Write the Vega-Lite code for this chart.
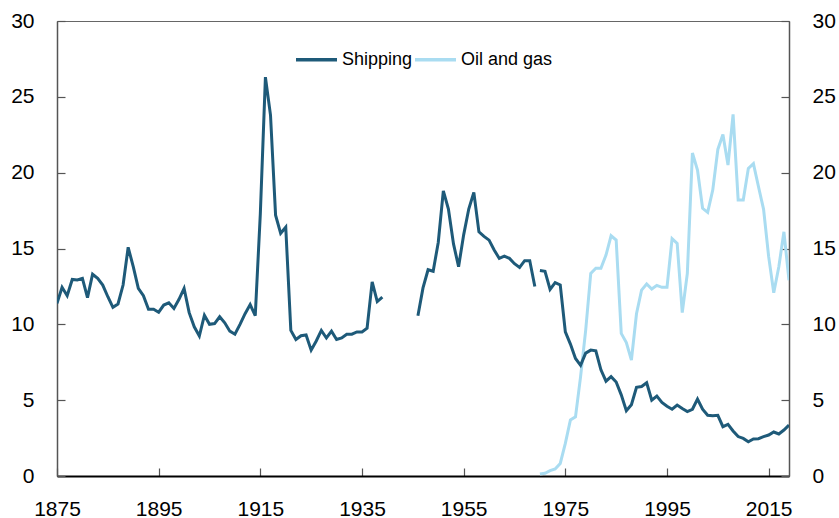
{
  "$schema": "https://vega.github.io/schema/vega-lite/v6.json",
  "width": 732,
  "height": 455,
  "autosize": "none",
  "padding": {"left": 57, "top": 21, "right": 50, "bottom": 42},
  "background": "white",
  "config": {
    "font": "Liberation Sans",
    "view": {"stroke": "#666", "strokeWidth": 1},
    "axis": {
      "grid": false,
      "labelFont": "Liberation Sans",
      "labelFontSize": 21,
      "labelColor": "#000",
      "domainColor": "#555",
      "domainWidth": 1.5,
      "tickColor": "#555",
      "tickWidth": 1.2,
      "title": null
    }
  },
  "data": {"values": [
      {"year":1970,"value":0.13,"series":"Oil and gas","seg":"D"},{"year":1971,"value":0.18,"series":"Oil and gas","seg":"D"},{"year":1972,"value":0.35,"series":"Oil and gas","seg":"D"},{"year":1973,"value":0.46,"series":"Oil and gas","seg":"D"},{"year":1974,"value":0.83,"series":"Oil and gas","seg":"D"},{"year":1975,"value":2.15,"series":"Oil and gas","seg":"D"},{"year":1976,"value":3.7,"series":"Oil and gas","seg":"D"},{"year":1977,"value":3.9,"series":"Oil and gas","seg":"D"},{"year":1978,"value":6.55,"series":"Oil and gas","seg":"D"},{"year":1979,"value":9.6,"series":"Oil and gas","seg":"D"},{"year":1980,"value":13.36,"series":"Oil and gas","seg":"D"},{"year":1981,"value":13.7,"series":"Oil and gas","seg":"D"},{"year":1982,"value":13.7,"series":"Oil and gas","seg":"D"},{"year":1983,"value":14.57,"series":"Oil and gas","seg":"D"},{"year":1984,"value":15.84,"series":"Oil and gas","seg":"D"},{"year":1985,"value":15.56,"series":"Oil and gas","seg":"D"},{"year":1986,"value":9.4,"series":"Oil and gas","seg":"D"},{"year":1987,"value":8.8,"series":"Oil and gas","seg":"D"},{"year":1988,"value":7.65,"series":"Oil and gas","seg":"D"},{"year":1989,"value":10.7,"series":"Oil and gas","seg":"D"},{"year":1990,"value":12.26,"series":"Oil and gas","seg":"D"},{"year":1991,"value":12.66,"series":"Oil and gas","seg":"D"},{"year":1992,"value":12.33,"series":"Oil and gas","seg":"D"},{"year":1993,"value":12.57,"series":"Oil and gas","seg":"D"},{"year":1994,"value":12.44,"series":"Oil and gas","seg":"D"},{"year":1995,"value":12.44,"series":"Oil and gas","seg":"D"},{"year":1996,"value":15.65,"series":"Oil and gas","seg":"D"},{"year":1997,"value":15.34,"series":"Oil and gas","seg":"D"},{"year":1998,"value":10.77,"series":"Oil and gas","seg":"D"},{"year":1999,"value":13.36,"series":"Oil and gas","seg":"D"},{"year":2000,"value":21.3,"series":"Oil and gas","seg":"D"},{"year":2001,"value":20.17,"series":"Oil and gas","seg":"D"},{"year":2002,"value":17.65,"series":"Oil and gas","seg":"D"},{"year":2003,"value":17.38,"series":"Oil and gas","seg":"D"},{"year":2004,"value":18.85,"series":"Oil and gas","seg":"D"},{"year":2005,"value":21.53,"series":"Oil and gas","seg":"D"},{"year":2006,"value":22.52,"series":"Oil and gas","seg":"D"},{"year":2007,"value":20.5,"series":"Oil and gas","seg":"D"},{"year":2008,"value":23.84,"series":"Oil and gas","seg":"D"},{"year":2009,"value":18.2,"series":"Oil and gas","seg":"D"},{"year":2010,"value":18.2,"series":"Oil and gas","seg":"D"},{"year":2011,"value":20.28,"series":"Oil and gas","seg":"D"},{"year":2012,"value":20.6,"series":"Oil and gas","seg":"D"},{"year":2013,"value":19.07,"series":"Oil and gas","seg":"D"},{"year":2014,"value":17.58,"series":"Oil and gas","seg":"D"},{"year":2015,"value":14.46,"series":"Oil and gas","seg":"D"},{"year":2016,"value":12.08,"series":"Oil and gas","seg":"D"},{"year":2017,"value":13.8,"series":"Oil and gas","seg":"D"},{"year":2018,"value":16.1,"series":"Oil and gas","seg":"D"},{"year":2019,"value":12.9,"series":"Oil and gas","seg":"D"},
      {"year":1875,"value":11.38,"series":"Shipping","seg":"A"},{"year":1876,"value":12.44,"series":"Shipping","seg":"A"},{"year":1877,"value":11.89,"series":"Shipping","seg":"A"},{"year":1878,"value":12.96,"series":"Shipping","seg":"A"},{"year":1879,"value":12.92,"series":"Shipping","seg":"A"},{"year":1880,"value":13.03,"series":"Shipping","seg":"A"},{"year":1881,"value":11.76,"series":"Shipping","seg":"A"},{"year":1882,"value":13.3,"series":"Shipping","seg":"A"},{"year":1883,"value":13.03,"series":"Shipping","seg":"A"},{"year":1884,"value":12.59,"series":"Shipping","seg":"A"},{"year":1885,"value":11.82,"series":"Shipping","seg":"A"},{"year":1886,"value":11.12,"series":"Shipping","seg":"A"},{"year":1887,"value":11.34,"series":"Shipping","seg":"A"},{"year":1888,"value":12.59,"series":"Shipping","seg":"A"},{"year":1889,"value":15.08,"series":"Shipping","seg":"A"},{"year":1890,"value":13.8,"series":"Shipping","seg":"A"},{"year":1891,"value":12.37,"series":"Shipping","seg":"A"},{"year":1892,"value":11.89,"series":"Shipping","seg":"A"},{"year":1893,"value":11.0,"series":"Shipping","seg":"A"},{"year":1894,"value":10.99,"series":"Shipping","seg":"A"},{"year":1895,"value":10.8,"series":"Shipping","seg":"A"},{"year":1896,"value":11.27,"series":"Shipping","seg":"A"},{"year":1897,"value":11.42,"series":"Shipping","seg":"A"},{"year":1898,"value":11.05,"series":"Shipping","seg":"A"},{"year":1899,"value":11.65,"series":"Shipping","seg":"A"},{"year":1900,"value":12.37,"series":"Shipping","seg":"A"},{"year":1901,"value":10.77,"series":"Shipping","seg":"A"},{"year":1902,"value":9.84,"series":"Shipping","seg":"A"},{"year":1903,"value":9.23,"series":"Shipping","seg":"A"},{"year":1904,"value":10.6,"series":"Shipping","seg":"A"},{"year":1905,"value":10.0,"series":"Shipping","seg":"A"},{"year":1906,"value":10.05,"series":"Shipping","seg":"A"},{"year":1907,"value":10.5,"series":"Shipping","seg":"A"},{"year":1908,"value":10.1,"series":"Shipping","seg":"A"},{"year":1909,"value":9.55,"series":"Shipping","seg":"A"},{"year":1910,"value":9.35,"series":"Shipping","seg":"A"},{"year":1911,"value":10.0,"series":"Shipping","seg":"A"},{"year":1912,"value":10.7,"series":"Shipping","seg":"A"},{"year":1913,"value":11.3,"series":"Shipping","seg":"A"},{"year":1914,"value":10.57,"series":"Shipping","seg":"A"},{"year":1915,"value":17.3,"series":"Shipping","seg":"A"},{"year":1916,"value":26.3,"series":"Shipping","seg":"A"},{"year":1917,"value":23.8,"series":"Shipping","seg":"A"},{"year":1918,"value":17.2,"series":"Shipping","seg":"A"},{"year":1919,"value":16.0,"series":"Shipping","seg":"A"},{"year":1920,"value":16.4,"series":"Shipping","seg":"A"},{"year":1921,"value":9.6,"series":"Shipping","seg":"A"},{"year":1922,"value":9.0,"series":"Shipping","seg":"A"},{"year":1923,"value":9.25,"series":"Shipping","seg":"A"},{"year":1924,"value":9.3,"series":"Shipping","seg":"A"},{"year":1925,"value":8.3,"series":"Shipping","seg":"A"},{"year":1926,"value":8.9,"series":"Shipping","seg":"A"},{"year":1927,"value":9.6,"series":"Shipping","seg":"A"},{"year":1928,"value":9.1,"series":"Shipping","seg":"A"},{"year":1929,"value":9.55,"series":"Shipping","seg":"A"},{"year":1930,"value":9.0,"series":"Shipping","seg":"A"},{"year":1931,"value":9.1,"series":"Shipping","seg":"A"},{"year":1932,"value":9.35,"series":"Shipping","seg":"A"},{"year":1933,"value":9.35,"series":"Shipping","seg":"A"},{"year":1934,"value":9.5,"series":"Shipping","seg":"A"},{"year":1935,"value":9.5,"series":"Shipping","seg":"A"},{"year":1936,"value":9.75,"series":"Shipping","seg":"A"},{"year":1937,"value":12.8,"series":"Shipping","seg":"A"},{"year":1938,"value":11.5,"series":"Shipping","seg":"A"},{"year":1939,"value":11.8,"series":"Shipping","seg":"A"},
      {"year":1946,"value":10.57,"series":"Shipping","seg":"B"},{"year":1947,"value":12.4,"series":"Shipping","seg":"B"},{"year":1948,"value":13.6,"series":"Shipping","seg":"B"},{"year":1949,"value":13.5,"series":"Shipping","seg":"B"},{"year":1950,"value":15.4,"series":"Shipping","seg":"B"},{"year":1951,"value":18.8,"series":"Shipping","seg":"B"},{"year":1952,"value":17.6,"series":"Shipping","seg":"B"},{"year":1953,"value":15.3,"series":"Shipping","seg":"B"},{"year":1954,"value":13.8,"series":"Shipping","seg":"B"},{"year":1955,"value":15.9,"series":"Shipping","seg":"B"},{"year":1956,"value":17.6,"series":"Shipping","seg":"B"},{"year":1957,"value":18.7,"series":"Shipping","seg":"B"},{"year":1958,"value":16.1,"series":"Shipping","seg":"B"},{"year":1959,"value":15.8,"series":"Shipping","seg":"B"},{"year":1960,"value":15.55,"series":"Shipping","seg":"B"},{"year":1961,"value":14.9,"series":"Shipping","seg":"B"},{"year":1962,"value":14.35,"series":"Shipping","seg":"B"},{"year":1963,"value":14.5,"series":"Shipping","seg":"B"},{"year":1964,"value":14.35,"series":"Shipping","seg":"B"},{"year":1965,"value":14.0,"series":"Shipping","seg":"B"},{"year":1966,"value":13.75,"series":"Shipping","seg":"B"},{"year":1967,"value":14.2,"series":"Shipping","seg":"B"},{"year":1968,"value":14.2,"series":"Shipping","seg":"B"},{"year":1969,"value":12.5,"series":"Shipping","seg":"B"},
      {"year":1970,"value":13.55,"series":"Shipping","seg":"C"},{"year":1971,"value":13.5,"series":"Shipping","seg":"C"},{"year":1972,"value":12.3,"series":"Shipping","seg":"C"},{"year":1973,"value":12.75,"series":"Shipping","seg":"C"},{"year":1974,"value":12.6,"series":"Shipping","seg":"C"},{"year":1975,"value":9.5,"series":"Shipping","seg":"C"},{"year":1976,"value":8.7,"series":"Shipping","seg":"C"},{"year":1977,"value":7.75,"series":"Shipping","seg":"C"},{"year":1978,"value":7.3,"series":"Shipping","seg":"C"},{"year":1979,"value":8.1,"series":"Shipping","seg":"C"},{"year":1980,"value":8.3,"series":"Shipping","seg":"C"},{"year":1981,"value":8.25,"series":"Shipping","seg":"C"},{"year":1982,"value":7.0,"series":"Shipping","seg":"C"},{"year":1983,"value":6.25,"series":"Shipping","seg":"C"},{"year":1984,"value":6.55,"series":"Shipping","seg":"C"},{"year":1985,"value":6.2,"series":"Shipping","seg":"C"},{"year":1986,"value":5.35,"series":"Shipping","seg":"C"},{"year":1987,"value":4.3,"series":"Shipping","seg":"C"},{"year":1988,"value":4.7,"series":"Shipping","seg":"C"},{"year":1989,"value":5.85,"series":"Shipping","seg":"C"},{"year":1990,"value":5.9,"series":"Shipping","seg":"C"},{"year":1991,"value":6.15,"series":"Shipping","seg":"C"},{"year":1992,"value":5.0,"series":"Shipping","seg":"C"},{"year":1993,"value":5.27,"series":"Shipping","seg":"C"},{"year":1994,"value":4.85,"series":"Shipping","seg":"C"},{"year":1995,"value":4.6,"series":"Shipping","seg":"C"},{"year":1996,"value":4.4,"series":"Shipping","seg":"C"},{"year":1997,"value":4.68,"series":"Shipping","seg":"C"},{"year":1998,"value":4.45,"series":"Shipping","seg":"C"},{"year":1999,"value":4.25,"series":"Shipping","seg":"C"},{"year":2000,"value":4.4,"series":"Shipping","seg":"C"},{"year":2001,"value":5.07,"series":"Shipping","seg":"C"},{"year":2002,"value":4.4,"series":"Shipping","seg":"C"},{"year":2003,"value":4.0,"series":"Shipping","seg":"C"},{"year":2004,"value":3.97,"series":"Shipping","seg":"C"},{"year":2005,"value":4.0,"series":"Shipping","seg":"C"},{"year":2006,"value":3.25,"series":"Shipping","seg":"C"},{"year":2007,"value":3.4,"series":"Shipping","seg":"C"},{"year":2008,"value":2.97,"series":"Shipping","seg":"C"},{"year":2009,"value":2.6,"series":"Shipping","seg":"C"},{"year":2010,"value":2.48,"series":"Shipping","seg":"C"},{"year":2011,"value":2.26,"series":"Shipping","seg":"C"},{"year":2012,"value":2.44,"series":"Shipping","seg":"C"},{"year":2013,"value":2.46,"series":"Shipping","seg":"C"},{"year":2014,"value":2.6,"series":"Shipping","seg":"C"},{"year":2015,"value":2.7,"series":"Shipping","seg":"C"},{"year":2016,"value":2.9,"series":"Shipping","seg":"C"},{"year":2017,"value":2.77,"series":"Shipping","seg":"C"},{"year":2018,"value":3.03,"series":"Shipping","seg":"C"},{"year":2019,"value":3.36,"series":"Shipping","seg":"C"}
  ]},
  "layer": [
    {
      "mark": {"type": "line", "strokeWidth": 3, "strokeJoin": "miter", "clip": true},
      "encoding": {
        "x": {"field": "year", "type": "quantitative", "scale": {"domain": [1875, 2019], "nice": false, "zero": false},
              "axis": {"values": [1875,1895,1915,1935,1955,1975,1995,2015], "format": "d", "tickSize": -8, "labelPadding": 30, "domainColor": "#000", "domainWidth": 2, "labelFlush": false}},
        "y": {"field": "value", "type": "quantitative", "scale": {"domain": [0, 30], "nice": false},
              "axis": {"orient": "left", "values": [0,5,10,15,20,25,30], "tickSize": -8, "labelPadding": 31}},
        "color": {"field": "series", "type": "nominal",
                  "scale": {"domain": ["Shipping", "Oil and gas"], "range": ["#1e5a79", "#a9dcf1"]},
                  "legend": {"orient": "none", "legendX": 237, "legendY": 16, "direction": "horizontal", "title": null,
                             "symbolType": "stroke", "symbolSize": 1681, "symbolStrokeWidth": 3.5,
                             "labelFont": "Liberation Sans", "labelFontSize": 18, "labelColor": "#000", "labelOffset": 3, "columnPadding": -6}},
        "detail": {"field": "seg", "type": "nominal"}
      }
    },
    {
      "mark": {"type": "line", "strokeOpacity": 0},
      "encoding": {
        "x": {"field": "year", "type": "quantitative"},
        "y": {"field": "value", "type": "quantitative", "scale": {"domain": [0, 30], "nice": false},
              "axis": {"orient": "right", "values": [0,5,10,15,20,25,30], "tickSize": -8, "labelPadding": 31}},
        "detail": {"field": "seg", "type": "nominal"}
      }
    }
  ],
  "resolve": {"scale": {"y": "independent"}}
}
